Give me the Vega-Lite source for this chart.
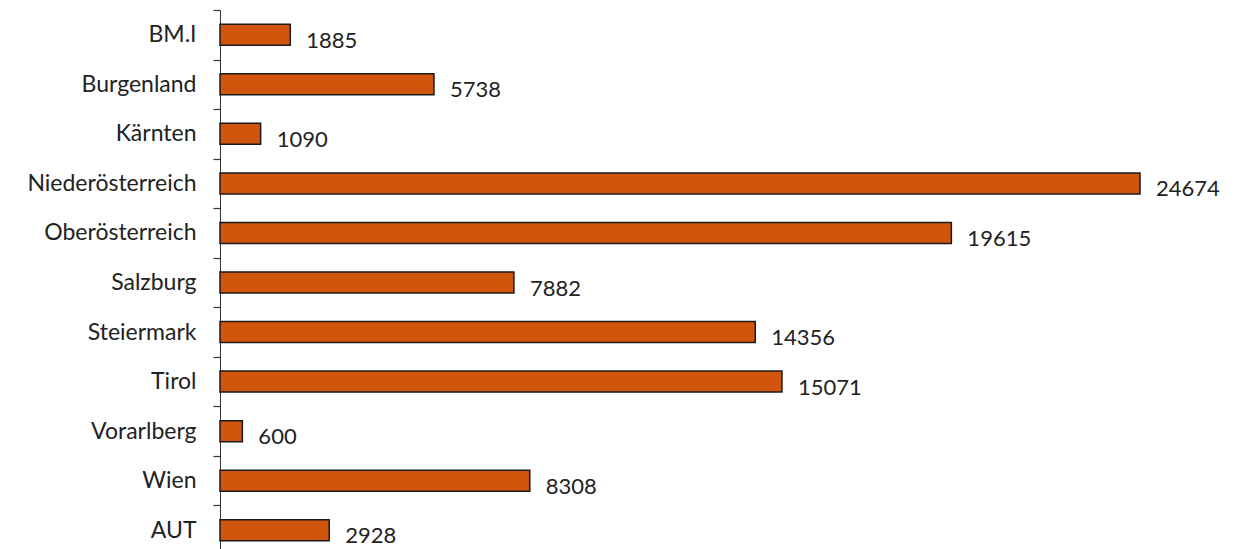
{
  "$schema": "https://vega.github.io/schema/vega-lite/v6.json",
  "autosize": {"type": "none"},
  "padding": {"left": 220, "top": 10, "right": 0, "bottom": 0},
  "width": 1015,
  "height": 545,
  "background": "white",
  "config": {"view": {"stroke": null}, "font": "Lato"},
  "data": {"values": [
    {"region": "BM.I", "value": 1885},
    {"region": "Burgenland", "value": 5738},
    {"region": "Kärnten", "value": 1090},
    {"region": "Niederösterreich", "value": 24674},
    {"region": "Oberösterreich", "value": 19615},
    {"region": "Salzburg", "value": 7882},
    {"region": "Steiermark", "value": 14356},
    {"region": "Tirol", "value": 15071},
    {"region": "Vorarlberg", "value": 600},
    {"region": "Wien", "value": 8308},
    {"region": "AUT", "value": 2928}
  ]},
  "encoding": {
    "y": {
      "field": "region", "type": "nominal", "sort": null,
      "scale": {"paddingInner": 0, "paddingOuter": 0},
      "axis": {
        "title": null, "domainColor": "#333", "ticks": true, "tickColor": "#333", "tickSize": 7, "tickWidth": 1.2,
        "tickBand": "extent", "labelPadding": 17, "labelFontSize": 23,
        "labelColor": "#222", "labelFont": "Lato", "grid": false
      }
    },
    "x": {
      "field": "value", "type": "quantitative",
      "scale": {"domain": [0, 27222], "nice": false},
      "axis": null
    }
  },
  "layer": [
    {"mark": {"type": "bar", "size": 21, "color": "#D2550E", "stroke": "#1a1a1a", "strokeWidth": 1.5}},
    {"mark": {"type": "text", "align": "left", "dx": 16, "dy": 6, "fontSize": 22, "color": "#222", "font": "Lato"},
     "encoding": {"text": {"field": "value", "type": "quantitative", "format": "d"}}}
  ]
}
